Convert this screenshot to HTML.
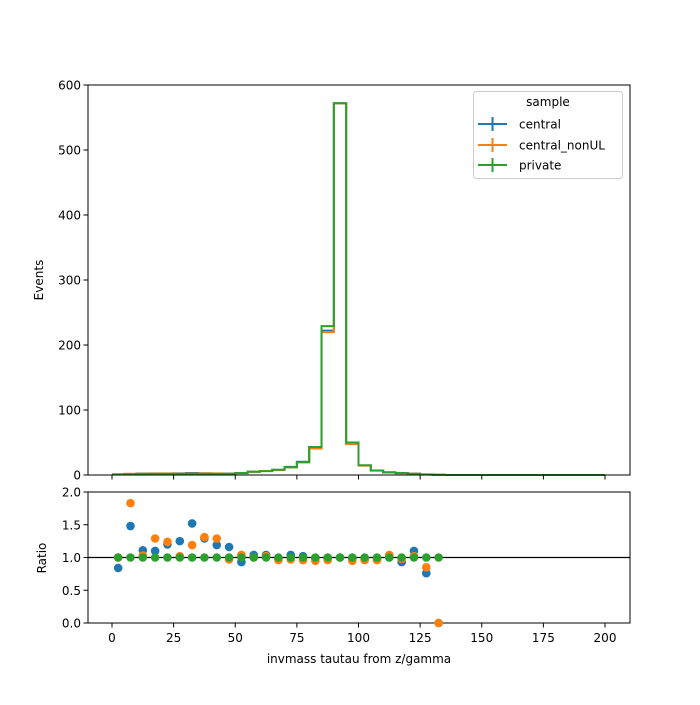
<!DOCTYPE html>
<html><head><meta charset="utf-8"><style>
body{margin:0;background:#fff}
svg text{font-family:"DejaVu Sans","Liberation Sans",sans-serif;font-size:12px;fill:#000}
</style></head><body>
<svg id="chart" width="700" height="700" xmlns="http://www.w3.org/2000/svg"></svg>
<script>
const binEdges=[0,5,10,15,20,25,30,35,40,45,50,55,60,65,70,75,80,85,90,95,100,105,110,115,120,125,130,135,140,145,150,155,160,165,170,175,180,185,190,195,200];
const privateVals=[1,1,2,2,2,2,2,2,2,2,3,5,6,8,12,20,43,229,572,50,15,7,4,3,2,1,0.5,0,0,0,0,0,0,0,0,0,0,0,0,0];
const centralRatio=[0.84,1.48,1.11,1.10,1.20,1.25,1.52,1.29,1.19,1.16,0.93,1.04,1.04,0.98,1.04,1.02,0.98,0.97,1.0,0.97,0.97,0.98,1.0,0.93,1.10,0.76,0];
const nonULRatio=[1.0,1.83,1.03,1.29,1.24,1.02,1.19,1.31,1.29,0.97,1.04,1.0,1.02,0.96,0.97,0.96,0.95,0.96,1.0,0.95,0.96,0.96,1.04,0.98,1.02,0.85,0];
const privateRatio=[1,1,1,1,1,1,1,1,1,1,1,1,1,1,1,1,1,1,1,1,1,1,1,1,1,1,1];
const xTicks=[0,25,50,75,100,125,150,175,200];
const yTicks=[0,100,200,300,400,500,600];
const rTicks=[0.0,0.5,1.0,1.5,2.0];
const C={central:'#1f77b4',nonUL:'#ff7f0e',priv:'#2ca02c'};
const svg=document.getElementById('chart');
const NS='http://www.w3.org/2000/svg';
function mk(tag,attrs,parent){const e=document.createElementNS(NS,tag);for(const k in attrs)e.setAttribute(k,attrs[k]);(parent||svg).appendChild(e);return e;}
const X=v=>112+(v)*(605-112)/200;
const Y=v=>475-v*(475-85)/600;
const R=v=>623-v*(623-492)/2;
const L=88,Rt=630;
function hist(vals,color,name){
  let d='';
  for(let i=0;i<vals.length;i++){
    const x0=X(binEdges[i]),x1=X(binEdges[i+1]),y=Y(vals[i]);
    d+=(i===0?'M':'L')+x0+','+y+'L'+x1+','+y;
  }
  const p=mk('path',{d:d,fill:'none',stroke:color,'stroke-width':2});
  
  
}
const centralVals=privateVals.map((v,i)=>v*(i<centralRatio.length?centralRatio[i]:1));
const nonULVals=privateVals.map((v,i)=>v*(i<nonULRatio.length?nonULRatio[i]:1));
hist(centralVals,C.central,'central-hist');
hist(nonULVals,C.nonUL,'central-nonul-hist');
hist(privateVals,C.priv,'private-hist');
const f1=mk('rect',{x:L,y:85,width:Rt-L,height:390,fill:'none',stroke:'#000','stroke-width':1});

const f2=mk('rect',{x:L,y:492,width:Rt-L,height:131,fill:'none',stroke:'#000','stroke-width':1});

xTicks.forEach(t=>{
  mk('line',{x1:X(t),x2:X(t),y1:475,y2:479.5,stroke:'#000'});
  mk('line',{x1:X(t),x2:X(t),y1:623,y2:627.5,stroke:'#000'});
  const tx=mk('text',{x:X(t),y:642,'text-anchor':'middle'});tx.textContent=t;
  
});
yTicks.forEach(t=>{
  mk('line',{x1:L-4.5,x2:L,y1:Y(t),y2:Y(t),stroke:'#000'});
  const tx=mk('text',{x:L-7,y:Y(t)+4.5,'text-anchor':'end'});tx.textContent=t;
  
});
rTicks.forEach(t=>{
  mk('line',{x1:L-4.5,x2:L,y1:R(t),y2:R(t),stroke:'#000'});
  const tx=mk('text',{x:L-7,y:R(t)+4.5,'text-anchor':'end'});tx.textContent=t.toFixed(1);
  
});
const ref=mk('line',{x1:L,x2:Rt,y1:R(1),y2:R(1),stroke:'#000','stroke-width':1.2});

function pts(vals,color,name){
  vals.forEach((v,i)=>{
    const c=mk('circle',{cx:X((binEdges[i]+binEdges[i+1])/2),cy:R(v),r:4.3,fill:color});
    
    
  });
}
pts(centralRatio,C.central,'central-ratio-point');
pts(nonULRatio,C.nonUL,'central-nonul-ratio-point');
pts(privateRatio,C.priv,'private-ratio-point');
const yl=mk('text',{x:0,y:0,'text-anchor':'middle',transform:'translate(43,280) rotate(-90)'});yl.textContent='Events';

const rl=mk('text',{x:0,y:0,'text-anchor':'middle',transform:'translate(46,558) rotate(-90)'});rl.textContent='Ratio';

const xl=mk('text',{x:359,y:663,'text-anchor':'middle'});xl.textContent='invmass tautau from z/gamma';

const lg=mk('g',{});

mk('rect',{x:473.5,y:91.5,width:149,height:87,rx:3,fill:'#fff','fill-opacity':0.8,stroke:'#ccc'},lg);
const lt=mk('text',{x:548,y:106,'text-anchor':'middle'},lg);lt.textContent='sample';
[['central',C.central,124],['central_nonUL',C.nonUL,145],['private',C.priv,165]].forEach(([n,c,y])=>{
  const e=mk('g',{},lg);
  
  
  mk('line',{x1:478,x2:507,y1:y,y2:y,stroke:c,'stroke-width':2},e);
  mk('line',{x1:492.5,x2:492.5,y1:y-7,y2:y+7,stroke:c,'stroke-width':2},e);
  const t=mk('text',{x:519,y:y+4.5},e);t.textContent=n;
});
</script>
</body></html>
